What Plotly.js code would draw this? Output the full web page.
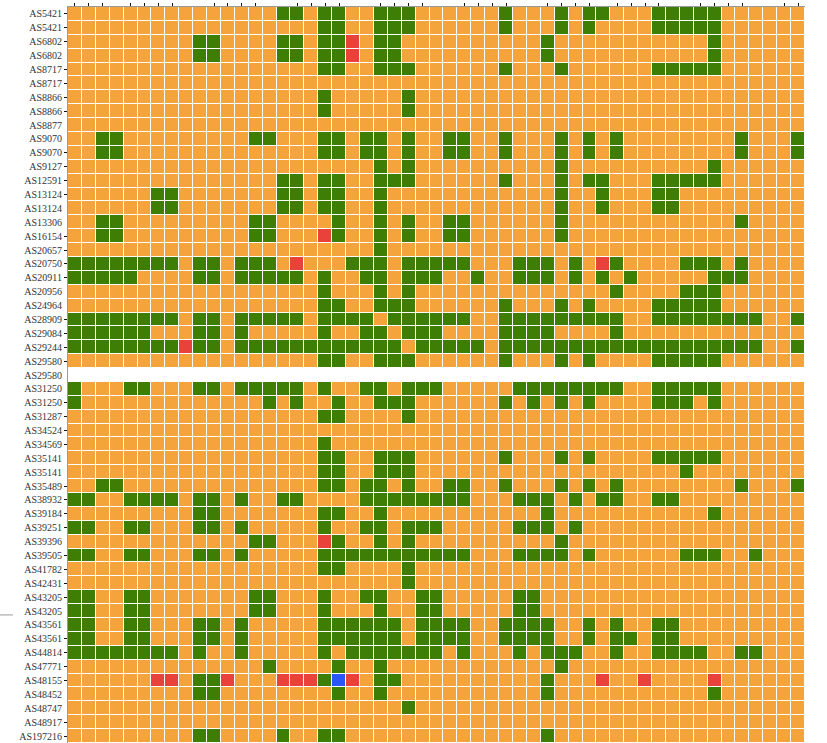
<!DOCTYPE html>
<html>
<head>
<meta charset="utf-8">
<script src="https://cdn.plot.ly/plotly-3.0.1.min.js"></script>
<style>html,body{margin:0;padding:0;background:#fff;}#chart{width:827px;height:743px;}</style>
</head>
<body>
<div id="chart"></div>
<script>
// Row labels (top to bottom)
const rowLabels = ["AS5421","AS5421","AS6802","AS6802","AS8717","AS8717","AS8866","AS8866","AS8877","AS9070","AS9070","AS9127","AS12591","AS13124","AS13124","AS13306","AS16154","AS20657","AS20750","AS20911","AS20956","AS24964","AS28909","AS29084","AS29244","AS29580","AS29580","AS31250","AS31250","AS31287","AS34524","AS34569","AS35141","AS35141","AS35489","AS38932","AS39184","AS39251","AS39396","AS39505","AS41782","AS42431","AS43205","AS43205","AS43561","AS43561","AS44814","AS47771","AS48155","AS48452","AS48747","AS48917","AS197216"];
const nCols = 53;
// Positions carrying a tick mark (same on both axes)
const tickIdx = [0,1,2,4,5,6,7,10,11,12,13,16,17,18,19,22,23,24,25,28,29,30,31,34,35,36,37,39,40,41,42,45,46,47,48,51,52];
// Green cells: column indices per row
const greenCols = [
 [15,16,18,19,22,23,24,31,35,37,38,42,43,44,45,46],
 [18,19,22,23,24,31,35,37,42,43,44,45,46],
 [9,10,15,16,18,19,22,23,34,46],
 [9,10,15,16,18,19,22,23,34,46],
 [18,19,22,23,24,31,35,42,43,44,45,46],
 [],
 [18,24],
 [18,24],
 [],
 [2,3,13,14,18,19,21,22,24,27,28,31,35,37,39,48,52],
 [2,3,18,19,21,22,24,27,28,31,35,37,39,48,52],
 [22,24,35,46],
 [15,16,18,19,22,23,24,31,35,37,38,42,43,44,45,46],
 [6,7,15,16,18,19,22,35,38,42,43],
 [6,7,15,16,18,19,22,35,38,42,43],
 [2,3,13,14,19,22,24,27,28,35,48],
 [2,3,13,14,19,22,24,27,28,35],
 [22],
 [0,1,2,3,4,5,6,7,9,10,12,13,14,20,21,22,24,25,26,27,28,32,33,34,36,39,44,45,46,48],
 [0,1,2,3,4,9,10,12,13,14,15,16,18,21,22,24,25,26,29,32,33,34,36,38,40,46,47,48],
 [18,22,24,39,44,45,46],
 [18,19,22,23,24,31,35,37,42,43,44,45,46],
 [0,1,2,3,4,5,6,7,9,10,12,13,14,15,16,18,19,20,21,23,24,25,26,27,28,31,32,33,34,35,36,37,38,39,42,43,44,45,46,47,48,49,52],
 [0,1,2,3,4,5,9,10,12,18,21,22,24,25,26,31,32,33,34,39],
 [0,1,2,3,4,5,6,7,9,10,12,13,14,15,16,17,18,19,20,21,22,23,25,26,27,28,29,31,32,33,34,35,36,37,38,39,40,41,42,43,44,45,46,47,48,49,52],
 [18,19,22,23,24,31,35,37,42,43,44,45,46],
 [],
 [0,4,5,9,10,12,13,14,15,16,18,21,22,24,25,26,32,33,34,35,36,37,38,39,42,43,44,45,46],
 [0,14,16,19,22,23,24,31,33,35,37,42,43,44,46],
 [18,19,24],
 [],
 [18],
 [18,19,22,23,24,31,35,37,42,43,44,45,46],
 [18,19,22,23,24,44],
 [2,3,18,19,21,22,24,27,28,31,35,37,39,48,52],
 [0,1,4,5,6,7,9,10,12,15,16,21,22,23,24,25,26,27,28,32,33,34,36,38,39,42,43],
 [9,10,18,19,22,34,46],
 [0,1,4,5,9,10,12,18,21,22,24,25,26,32,33,34,36],
 [13,14,19,22,24,35],
 [0,1,4,5,9,10,12,18,19,20,21,22,23,24,25,26,27,28,32,33,34,35,37,44,45,46,49],
 [18,19,24],
 [24],
 [0,1,4,5,13,14,18,21,22,25,26,32,33],
 [0,1,4,5,13,14,18,22,25,26,32,33],
 [0,1,4,5,9,10,12,18,19,20,21,22,23,25,26,27,28,31,32,33,34,37,39,42,43],
 [0,1,4,5,9,10,12,18,19,20,21,22,23,25,26,27,28,31,32,33,34,37,39,40,42,43],
 [0,1,2,3,4,5,6,7,9,12,18,20,21,22,23,24,25,26,28,32,34,35,36,39,42,43,44,45,48,49],
 [14,19,22,35],
 [9,10,18,22,23,34],
 [9,10,19,22,34,46],
 [24],
 [],
 [9,10,15,18,19,34]
];
// Red cells: [row, col]
const redCells = [[2,20],[3,20],[16,18],[18,16],[18,38],[24,8],[38,18],[48,6],[48,7],[48,11],[48,15],[48,16],[48,17],[48,20],[48,38],[48,41],[48,46]];
// Blue cells: [row, col]
const blueCells = [[48,19]];
// Rows without values (drawn blank)
const emptyRows = [26];

const ORANGE = '#F4A43A', GREEN = '#3F7E05', RED = '#E9423B', BLUE = '#2A56F7';

const z = rowLabels.map((_, r) => {
  if (emptyRows.includes(r)) return new Array(nCols).fill(null);
  const row = new Array(nCols).fill(0);
  greenCols[r].forEach(c => { row[c] = 1; });
  return row;
});
redCells.forEach(([r, c]) => { z[r][c] = 2; });
blueCells.forEach(([r, c]) => { z[r][c] = 3; });

const xs = Array.from({length: nCols}, (_, i) => i);
const ys = rowLabels.map((_, i) => i);

const heat = {
  type: 'heatmap', x: xs, y: ys, z: z,
  zmin: -0.5, zmax: 3.5,
  colorscale: [[0, ORANGE], [0.25, ORANGE], [0.25, GREEN], [0.5, GREEN], [0.5, RED], [0.75, RED], [0.75, BLUE], [1, BLUE]],
  showscale: false, xgap: 1, ygap: 1, hoverinfo: 'skip'
};
const dummy = {type: 'scatter', x: [0], y: [0], yaxis: 'y2', mode: 'markers', marker: {opacity: 0}, hoverinfo: 'skip', showlegend: false};

const layout = {
  width: 827, height: 743,
  margin: {l: 68, r: 22, t: 7, b: 0, pad: 0},
  paper_bgcolor: '#fff', plot_bgcolor: '#fff',
  showlegend: false,
  xaxis: {
    range: [-0.5, nCols - 0.5], side: 'top', showline: true, linecolor: '#9a9a9a', linewidth: 1,
    tickvals: tickIdx, ticks: 'outside', ticklen: 3, tickwidth: 1, tickcolor: '#111',
    showticklabels: false, showgrid: false, zeroline: false, fixedrange: true
  },
  yaxis: {
    range: [rowLabels.length - 0.5, -0.5], showline: true, linecolor: '#9a9a9a', linewidth: 1,
    tickvals: ys, ticktext: rowLabels, ticks: 'outside', ticklen: 3, tickcolor: 'rgba(0,0,0,0)',
    tickfont: {family: 'Liberation Serif, Times New Roman, serif', size: 10, color: '#333'},
    showgrid: false, zeroline: false, fixedrange: true
  },
  yaxis2: {
    overlaying: 'y', anchor: 'x', side: 'left',
    range: [rowLabels.length - 0.5, -0.5],
    tickvals: tickIdx, ticks: 'outside', ticklen: 3, tickwidth: 1, tickcolor: '#111',
    showticklabels: false, showgrid: false, zeroline: false, showline: false, fixedrange: true
  },
  shapes: [
    {type: 'line', xref: 'paper', yref: 'paper', x0: -68/737, x1: -55/737, y0: 0.174, y1: 0.174, line: {color: '#999', width: 1}}
  ]
};

Plotly.newPlot('chart', [heat, dummy], layout, {displayModeBar: false, staticPlot: true});
</script>
</body>
</html>
